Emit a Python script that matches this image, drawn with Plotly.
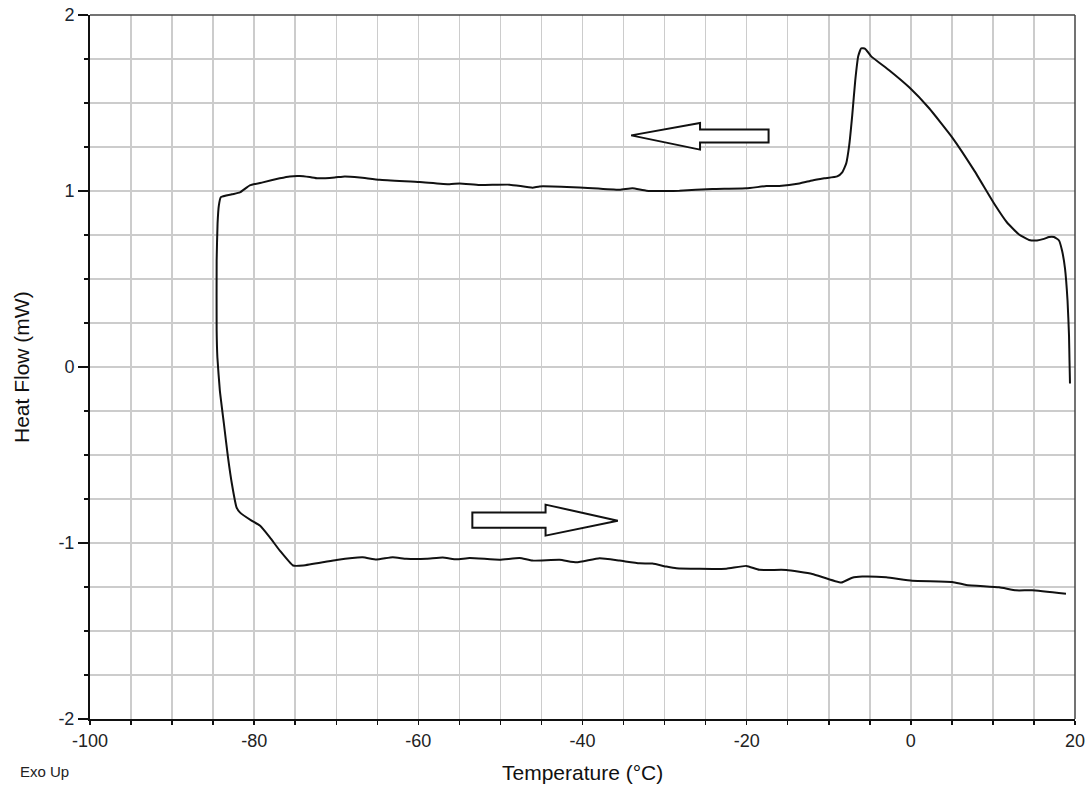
import plotly.graph_objects as go

# Cooling run (from +19 °C down to -85 °C), then heating run (back up to +19 °C)
temperature = [
    19.39, 19.33, 19.27, 19.09, 18.78, 18.42, 18.05, 17.44, 16.83, 16.22,
    15.37, 14.40, 13.18, 11.72, 10.14, 7.71, 5.03, 2.23, -0.20, -2.64,
    -4.83, -5.56, -6.04, -6.41, -6.77, -7.14, -7.51, -7.87, -8.36, -8.97,
    -10.55, -12.01, -13.59, -16.03, -17.61, -20.04, -24.18, -28.20, -32.21, -33.92,
    -35.50, -40.37, -45.23, -46.09, -48.88, -52.54, -54.97, -56.19, -59.84, -64.71,
    -67.14, -68.97, -70.18, -72.25, -73.23, -74.44, -75.66, -76.88, -78.95, -80.53,
    -81.74, -82.72, -84.06, -84.30, -84.46, -84.57, -84.57, -84.48, -84.18, -83.69,
    -83.20, -82.72, -82.15, -81.74, -80.32, -79.31, -78.09, -76.88, -75.26, -74.04,
    -71.64, -69.98, -66.78, -65.11, -63.12, -61.46, -59.02, -57.04, -55.33, -53.75,
    -50.10, -47.67, -46.09, -42.80, -40.73, -37.93, -35.50, -33.06, -31.48, -29.78,
    -28.56, -25.76, -22.48, -20.04, -18.46, -15.17, -12.01, -8.48, -7.14, -5.92,
    -3.00, 0.16, 5.03, 6.73, 10.75, 12.82, 14.77, 18.90,
]
heat_flow = [
    -0.094, 0.037, 0.179, 0.378, 0.560, 0.662, 0.719, 0.739, 0.739, 0.728,
    0.719, 0.722, 0.753, 0.821, 0.929, 1.117, 1.305, 1.470, 1.589, 1.686,
    1.765, 1.808, 1.811, 1.765, 1.629, 1.430, 1.259, 1.157, 1.106, 1.083,
    1.072, 1.060, 1.043, 1.029, 1.028, 1.015, 1.011, 1.002, 1.002, 1.016,
    1.007, 1.020, 1.026, 1.019, 1.036, 1.034, 1.043, 1.038, 1.051, 1.064,
    1.077, 1.083, 1.077, 1.072, 1.079, 1.085, 1.083, 1.072, 1.049, 1.032,
    0.992, 0.981, 0.965, 0.918, 0.816, 0.605, 0.207, 0.054, -0.134, -0.321,
    -0.509, -0.662, -0.797, -0.826, -0.873, -0.901, -0.968, -1.043, -1.128, -1.128,
    -1.110, -1.096, -1.081, -1.094, -1.081, -1.090, -1.090, -1.083, -1.093, -1.085,
    -1.095, -1.085, -1.100, -1.095, -1.110, -1.087, -1.100, -1.115, -1.117, -1.134,
    -1.144, -1.147, -1.146, -1.130, -1.152, -1.153, -1.176, -1.225, -1.197, -1.191,
    -1.195, -1.214, -1.221, -1.238, -1.252, -1.269, -1.269, -1.289,
]

# Hollow block arrows (annotation outlines, data coordinates)
cool_arrow_x = [-34.07, -25.68, -25.68, -17.33, -17.33, -25.68, -25.68]
cool_arrow_y = [1.316, 1.386, 1.350, 1.350, 1.275, 1.275, 1.235]
heat_arrow_x = [-53.42, -44.50, -44.50, -35.70, -44.50, -44.50, -53.42]
heat_arrow_y = [-0.826, -0.826, -0.782, -0.873, -0.958, -0.914, -0.914]

x_range = [-100, 20]
y_range = [-2, 2]
x_tickvals = [-100, -80, -60, -40, -20, 0, 20]
x_ticktext = ["-100", "-80", "-60", "-40", "-20", "0", "20"]
y_tickvals = [-2, -1, 0, 1, 2]
y_ticktext = ["-2", "-1", "0", "1", "2"]
x_title = "Temperature (°C)"
y_title = "Heat Flow (mW)"
corner_note = "Exo Up"

FONT = "Liberation Sans, Arial, sans-serif"
GRID = "#cccccc"
W, H = 1090, 788
ML, MR, MT, MB = 90, 15, 15, 69


def arrow_path(xs, ys):
    pts = " L ".join(f"{x},{y}" for x, y in zip(xs, ys))
    return "M " + pts + " Z"


fig = go.Figure()
fig.add_trace(go.Scatter(
    x=temperature, y=heat_flow, mode="lines",
    line=dict(color="#111111", width=2, shape="spline", smoothing=0.4),
    showlegend=False, hoverinfo="skip",
))

for xs, ys in [(cool_arrow_x, cool_arrow_y), (heat_arrow_x, heat_arrow_y)]:
    fig.add_shape(type="path", path=arrow_path(xs, ys), xref="x", yref="y",
                  line=dict(color="#111111", width=2), fillcolor="white", layer="above")

# top & right frame
fig.add_shape(type="line", xref="paper", yref="paper", x0=0, x1=1, y0=1, y1=1,
              line=dict(color="#444444", width=1.5))
fig.add_shape(type="line", xref="paper", yref="paper", x0=1, x1=1, y0=0, y1=1,
              line=dict(color="#444444", width=1.5))

pw, ph = W - ML - MR, H - MT - MB


def px_to_paper(px, py):
    return (px - ML) / pw, (H - MB - py) / ph


ex, ey = px_to_paper(18, 771)
fig.add_annotation(text=corner_note, xref="paper", yref="paper", x=ex, y=ey,
                   xanchor="left", yanchor="middle", showarrow=False,
                   font=dict(family=FONT, size=15, color="#222222"))
tx, ty = px_to_paper(582, 772)
fig.add_annotation(text=x_title, xref="paper", yref="paper", x=tx, y=ty,
                   xanchor="center", yanchor="middle", showarrow=False,
                   font=dict(family=FONT, size=21, color="#111111"))
yx, yy = px_to_paper(21, 367)
fig.add_annotation(text=y_title, xref="paper", yref="paper", x=yx, y=yy, textangle=-90,
                   xanchor="center", yanchor="middle", showarrow=False,
                   font=dict(family=FONT, size=21, color="#111111"))

fig.update_xaxes(
    range=x_range, tickvals=x_tickvals, ticktext=x_ticktext, ticks="outside", ticklen=4,
    tickwidth=1.5, tickcolor="#111111", showline=True, linecolor="#111111", linewidth=2,
    showgrid=True, gridcolor=GRID, gridwidth=1.5, zeroline=False, automargin=False,
    minor=dict(tick0=-100, dtick=5, ticks="outside", ticklen=4, tickwidth=1.5,
               tickcolor="#111111", showgrid=True, gridcolor=GRID, gridwidth=1.5),
    tickfont=dict(family=FONT, size=18, color="#222222"),
)
fig.update_yaxes(
    range=y_range, tickvals=y_tickvals, ticktext=y_ticktext, ticks="outside", ticklen=10,
    tickwidth=1.5, tickcolor="#111111", showline=True, linecolor="#111111", linewidth=2,
    showgrid=True, gridcolor=GRID, gridwidth=1.5, zeroline=False, automargin=False,
    minor=dict(tick0=-2, dtick=0.25, ticks="outside", ticklen=4, tickwidth=1.5,
               tickcolor="#111111", showgrid=True, gridcolor=GRID, gridwidth=1.5),
    tickfont=dict(family=FONT, size=18, color="#1a2633"),
)

fig.update_layout(
    width=W, height=H,
    margin=dict(l=ML, r=MR, t=MT, b=MB, autoexpand=False),
    paper_bgcolor="white", plot_bgcolor="white",
)

fig.write_html(
    "out.html",
    config={"displayModeBar": False, "staticPlot": True},
    post_script="document.body.style.margin='0';document.body.style.padding='0';"
                "document.body.style.overflow='hidden';",
)
